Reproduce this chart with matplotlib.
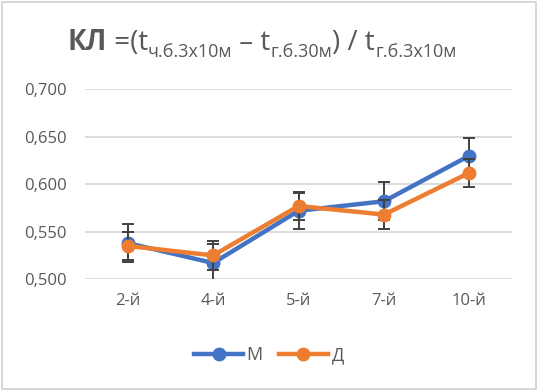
import matplotlib.pyplot as plt
from matplotlib.patches import Rectangle
from matplotlib.lines import Line2D
from matplotlib.transforms import IdentityTransform

plt.rcParams['font.family'] = ['Open Sans', 'DejaVu Sans']

# данные
groups = ['2-й', '4-й', '5-й', '7-й', '10-й']
m_vals = [0.538, 0.517, 0.572, 0.582, 0.630]
m_err = [0.020, 0.020, 0.019, 0.020, 0.019]
d_vals = [0.535, 0.525, 0.577, 0.568, 0.612]
d_err = [0.015, 0.015, 0.015, 0.015, 0.015]
yticks = [0.500, 0.550, 0.600, 0.650, 0.700]

blue, orange, grey = '#4472C4', '#ED7D31', '#595959'

fig = plt.figure(figsize=(5.38, 3.91), dpi=100)
fig.patches.append(Rectangle((0.004, 0.004), 0.992, 0.992, transform=fig.transFigure,
                             fill=False, edgecolor='#d0d0d0', linewidth=1.2))
ax = fig.add_axes([0.158, 0.286, 0.794, 0.486])

x = range(len(groups))
ax.errorbar(x, m_vals, yerr=m_err, color=blue, marker='o', markersize=9,
            linewidth=3.2, ecolor='#404040', elinewidth=1.4, capsize=4, capthick=1.4,
            zorder=3)
ax.errorbar(x, d_vals, yerr=d_err, color=orange, marker='o', markersize=9,
            linewidth=3.2, ecolor='#404040', elinewidth=1.4, capsize=4, capthick=1.4,
            zorder=4)

ax.set_xlim(-0.5, 4.5)
ax.set_ylim(0.5, 0.7)
ax.set_yticks(yticks)
ax.set_yticklabels([f'{v:.3f}'.replace('.', ',') for v in yticks])
ax.set_xticks(list(x))
ax.set_xticklabels(groups)
ax.tick_params(length=0, labelsize=12, labelcolor=grey, pad=10)
ax.tick_params(axis='y', pad=13)
ax.grid(axis='y', color='#d9d9d9', linewidth=1.3)
ax.set_axisbelow(True)
for s in ax.spines.values():
    s.set_visible(False)

# заголовок по частям (с нижними индексами)
pieces = [('КЛ', 20, 'bold', 0), (' =(t', 20, 'normal', 0), ('ч.б.3x10м', 13, 'normal', -7),
          (' – t', 20, 'normal', 0), ('г.б.30м', 13, 'normal', -7),
          (') / t', 20, 'normal', 0), ('г.б.3x10м', 13, 'normal', -7)]
renderer = fig.canvas.get_renderer()
texts = []
for s, size, weight, dy in pieces:
    t = fig.text(0, 0, s, fontsize=size, fontweight=weight, color=grey,
                 va='baseline', ha='left', transform=IdentityTransform())
    texts.append((t, dy))
widths = [t.get_window_extent(renderer).width for t, _ in texts]
xpos = 262 - sum(widths) / 2
base = 391 - 50
for (t, dy), w in zip(texts, widths):
    t.set_position((xpos, base + dy))
    xpos += w

handles = [Line2D([], [], color=blue, marker='o', markersize=9, linewidth=3.2),
           Line2D([], [], color=orange, marker='o', markersize=9, linewidth=3.2)]
fig.legend(handles, ['М', 'Д'], loc='center', bbox_to_anchor=(0.5, 0.092), ncol=2,
           frameon=False, fontsize=13, labelcolor=grey, handlelength=2.7,
           columnspacing=0.9, handletextpad=0.2)

fig.savefig('out.png', dpi=100)
